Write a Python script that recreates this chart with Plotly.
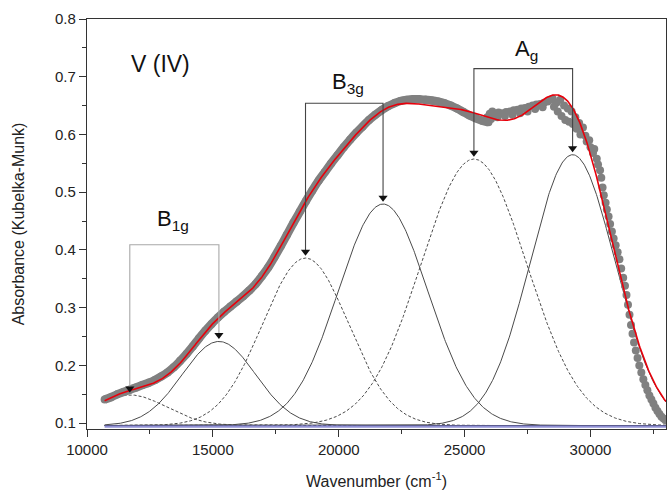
import numpy as np
import plotly.graph_objects as go

# ---- data ----
# Gaussian fit components (center cm-1, height above baseline, sigma cm-1), baseline
baseline = 0.096
comp_names = ["B1g-1", "B1g-2", "B3g-1", "B3g-2", "Ag-1", "Ag-2"]
comp_center = [11700, 15240, 18680, 21760, 25370, 29290]
comp_height = [0.053, 0.1456, 0.290, 0.3836, 0.4615, 0.469]
comp_sigma = [1450, 1460, 1710, 1780, 2100, 1680]
comp_dash = ["3px,2px", "solid", "3px,2px", "solid", "3px,2px", "solid"]

# measured spectrum (grey dots): smooth part then scattered part
data_wn = [10700, 10950, 11200, 11450, 11700, 11950, 12200, 12450, 12700, 12950,
           13200, 13450, 13700, 13950, 14200, 14450, 14700, 14950, 15200, 15450,
           15700, 15950, 16200, 16450, 16700, 16950, 17200, 17450, 17700, 17950,
           18200, 18450, 18700, 18950, 19200, 19450, 19700, 19950, 20200, 20450,
           20700, 20950, 21200, 21450, 21700, 21950, 22200, 22450, 22700, 22950,
           23200, 23450, 23700, 23950, 24200, 24450, 24700, 24950, 25200, 25450,
           25700, 25950,
           25900, 26000, 26100, 26050, 26200, 26350, 26500, 26650,
           26800, 26950, 27100, 27250, 27400, 27550, 27700, 27850, 28000, 28150,
           28300, 28400, 26300, 26600, 26900, 27200, 27500, 27800, 28100,
           28500, 28550, 28650, 28700, 28800, 28850, 28950, 29000, 29100, 29150,
           29250, 29300, 29400, 29450, 29550, 29600, 29700, 29800, 29850, 29950,
           30000, 30100, 30150, 30250, 30300, 30380, 30430, 30480, 30530, 30600,
           30650, 30720, 30780, 30850, 30920, 31000, 31080, 31150, 31220, 31300,
           31370, 31430, 31490, 31550, 31610, 31670, 31730, 31800, 31870, 31940,
           32020, 32100, 32180, 32260, 32340, 32420, 32500, 32580, 32660, 32740,
           32820, 32900, 32980]
data_abs = [0.141, 0.145, 0.150, 0.154, 0.158, 0.162, 0.166, 0.170, 0.175, 0.181,
            0.188, 0.197, 0.208, 0.220, 0.233, 0.247, 0.260, 0.272, 0.283, 0.293,
            0.302, 0.311, 0.320, 0.330, 0.341, 0.355, 0.370, 0.388, 0.407, 0.427,
            0.447, 0.466, 0.485, 0.503, 0.520, 0.535, 0.550, 0.564, 0.578, 0.591,
            0.603, 0.614, 0.625, 0.634, 0.642, 0.649, 0.654, 0.658, 0.660, 0.661,
            0.661, 0.660, 0.659, 0.657, 0.654, 0.650, 0.645, 0.639, 0.633, 0.628,
            0.624, 0.621,
            0.630, 0.636, 0.640, 0.627, 0.636, 0.638, 0.637, 0.639,
            0.640, 0.642, 0.643, 0.645, 0.646, 0.648, 0.650, 0.652, 0.653, 0.655,
            0.657, 0.660, 0.630, 0.632, 0.634, 0.637, 0.640, 0.644, 0.647,
            0.662, 0.648, 0.655, 0.640, 0.660, 0.632, 0.650, 0.625, 0.645, 0.622,
            0.640, 0.618, 0.630, 0.610, 0.620, 0.600, 0.612, 0.598, 0.588, 0.590,
            0.578, 0.568, 0.575, 0.558, 0.548, 0.538, 0.525, 0.508, 0.495, 0.482,
            0.470, 0.458, 0.445, 0.432, 0.420, 0.408, 0.396, 0.384, 0.368, 0.352,
            0.338, 0.322, 0.305, 0.288, 0.270, 0.255, 0.240, 0.226, 0.213, 0.200,
            0.188, 0.176, 0.166, 0.157, 0.148, 0.141, 0.134, 0.127, 0.121, 0.116,
            0.111, 0.108, 0.105]
n_smooth = 62  # first points form a continuous band

# band assignment brackets
bracket_labels = ["B<sub>1g</sub>", "B<sub>3g</sub>", "A<sub>g</sub>"]
bracket_pairs = [(0, 1), (2, 3), (4, 5)]
bracket_top = [0.409, 0.654, 0.714]
bracket_color = ["#a8a8a8", "#444444", "#444444"]
label_pos = [(13420, 0.452), (20360, 0.690), (27460, 0.746)]

x_ticks = [10000, 15000, 20000, 25000, 30000]
x_tick_text = ["10000", "15000", "20000", "25000", "30000"]
y_ticks = [0.1, 0.2, 0.3, 0.4, 0.5, 0.6, 0.7, 0.8]

# ---- model curves ----
xg = np.linspace(10700, 33000, 800)
comps = [h * np.exp(-(xg - c) ** 2 / (2 * s ** 2))
         for c, h, s in zip(comp_center, comp_height, comp_sigma)]
fit = baseline + np.sum(comps, axis=0)

fig = go.Figure()

for comp, dash in zip(comps, comp_dash):
    fig.add_trace(go.Scatter(x=xg, y=baseline + comp, mode="lines",
                             line=dict(color="#4a4a4a", width=1, dash=dash),
                             showlegend=False, hoverinfo="skip"))

fig.add_trace(go.Scatter(x=[xg[0], xg[-1]], y=[baseline - 0.0015] * 2, mode="lines",
                         line=dict(color="rgba(110,110,200,0.75)", width=2.5),
                         showlegend=False, hoverinfo="skip"))

gray = "#808080"
fig.add_trace(go.Scatter(x=data_wn[:n_smooth], y=data_abs[:n_smooth], mode="lines",
                         line=dict(color=gray, width=8.5, shape="spline"),
                         showlegend=False, hoverinfo="skip"))
fig.add_trace(go.Scatter(x=data_wn, y=data_abs, mode="markers",
                         marker=dict(color=gray, size=8, line=dict(width=0)),
                         showlegend=False))

fig.add_trace(go.Scatter(x=xg, y=fit, mode="lines",
                         line=dict(color="#e8000b", width=1.6),
                         showlegend=False))

arrow_off = 0.011
for (i, j), top, col in zip(bracket_pairs, bracket_top, bracket_color):
    ti = baseline + comp_height[i] + arrow_off
    tj = baseline + comp_height[j] + arrow_off
    xi, xj = comp_center[i], comp_center[j]
    fig.add_trace(go.Scatter(x=[xi, xi, xj, xj], y=[ti, top, top, tj], mode="lines",
                             line=dict(color=col, width=1.1),
                             showlegend=False, hoverinfo="skip"))
    fig.add_trace(go.Scatter(x=[xi, xj], y=[ti, tj], mode="markers",
                             marker=dict(symbol="triangle-down", size=8, color="#111111"),
                             showlegend=False, hoverinfo="skip"))

font_family = "Liberation Sans, Arial, sans-serif"
for lab, (lx, ly) in zip(bracket_labels, label_pos):
    fig.add_annotation(x=lx, y=ly, text=lab, showarrow=False,
                       font=dict(size=22, color="#111111", family=font_family))

fig.add_annotation(x=12900, y=0.722, text="V (IV)", showarrow=False,
                   font=dict(size=23, color="#111111", family=font_family))

axis_common = dict(showline=True, linecolor="#333333", linewidth=1.3, mirror=True,
                   showgrid=False, zeroline=False, ticks="outside", ticklen=7,
                   tickwidth=1.2, tickcolor="#333333", automargin=False,
                   tickfont=dict(size=15, color="#222222", family=font_family))

fig.update_layout(
    width=667, height=496,
    margin=dict(l=87, r=1, t=19, b=67),
    paper_bgcolor="white", plot_bgcolor="white",
    font=dict(family=font_family, color="#222222"),
    xaxis=dict(range=[10000, 33000], tickvals=x_ticks, ticktext=x_tick_text,
               minor=dict(tickvals=[12500, 17500, 22500, 27500, 32500], ticks="outside",
                          ticklen=4, tickwidth=1.1, tickcolor="#333333"),
               title=dict(text="Wavenumber (cm<sup>-1</sup>)",
                          font=dict(size=16, family=font_family), standoff=18),
               **axis_common),
    yaxis=dict(range=[0.09, 0.8], tickvals=y_ticks, tickformat=".1f",
               minor=dict(tickvals=[round(0.15 + 0.1 * k, 2) for k in range(7)],
                          ticks="outside", ticklen=4, tickwidth=1.1, tickcolor="#333333"),
               title=dict(text="Absorbance (Kubelka-Munk)",
                          font=dict(size=16, family=font_family), standoff=26),
               **axis_common),
)

fig.write_html("out.html", config={"displayModeBar": False},
               post_script="document.body.style.margin='0px';"
                           "document.body.style.overflow='hidden';")
